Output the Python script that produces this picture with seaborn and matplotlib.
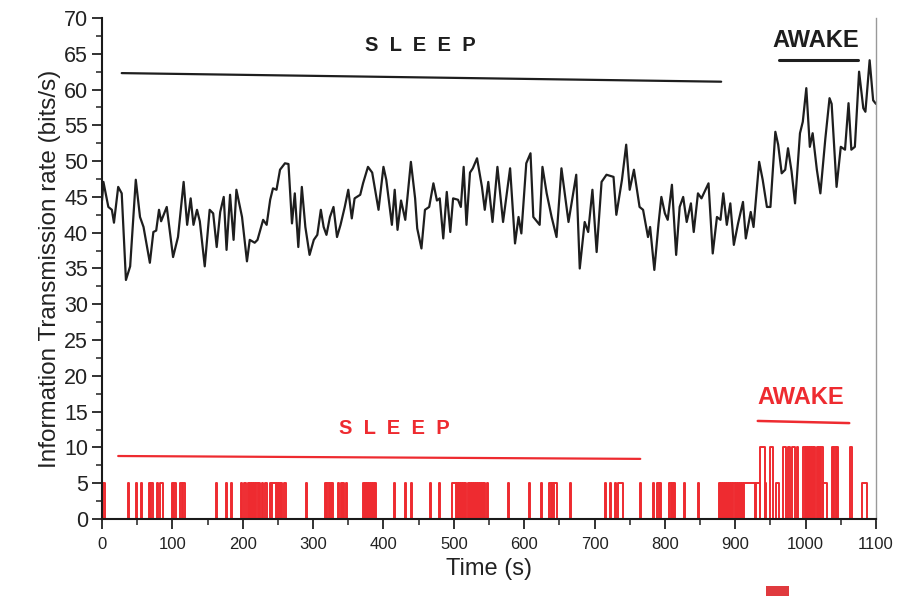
import numpy as np
import pandas as pd
import matplotlib
matplotlib.use("Agg")
import matplotlib.pyplot as plt
from matplotlib.patches import Rectangle
from matplotlib.ticker import MultipleLocator
import seaborn as sns

# black trace: information transmission rate
time_s = [0, 2, 9, 14, 17, 23, 28, 34, 40, 48,
          54, 59, 68, 73, 77, 81, 84, 92, 101, 108,
          116, 121, 126, 130, 135, 139, 146, 153, 158, 163,
          168, 173, 177, 182, 187, 191, 199, 206, 210, 217,
          221, 229, 234, 239, 243, 248, 253, 260, 265, 270,
          274, 279, 284, 289, 295, 301, 306, 311, 315, 319,
          324, 329, 334, 339, 345, 350, 355, 359, 367, 371,
          378, 384, 393, 400, 404, 412, 416, 420, 425, 431,
          439, 445, 448, 454, 459, 465, 471, 476, 480, 485,
          490, 495, 499, 506, 510, 514, 518, 523, 527, 533,
          540, 544, 549, 555, 562, 570, 580, 587, 592, 596,
          603, 609, 613, 622, 626, 632, 639, 646, 653, 663,
          674, 679, 686, 691, 697, 703, 710, 717, 727, 731,
          739, 745, 750, 756, 764, 769, 776, 779, 785, 791,
          795, 800, 804, 810, 816, 821, 826, 831, 837, 841,
          847, 852, 862, 868, 874, 879, 883, 888, 893, 898,
          904, 911, 915, 922, 926, 934, 939, 945, 950, 957,
          961, 966, 971, 975, 980, 985, 992, 996, 1001, 1006,
          1010, 1016, 1021, 1028, 1034, 1037, 1044, 1050, 1056, 1061,
          1065, 1070, 1076, 1082, 1085, 1091, 1096, 1100]
rate = [44.5, 47.1, 43.6, 43.2, 41.4, 46.4, 45.5, 33.4, 35.3, 47.4,
        42.2, 40.8, 35.8, 40.1, 40.3, 43.2, 41.6, 43.6, 36.6, 39.4,
        47.1, 41.1, 44.8, 41.1, 43.2, 41.6, 35.3, 43.2, 42.7, 38.0,
        42.9, 45.0, 37.6, 45.3, 39.0, 46.0, 42.2, 36.0, 39.0, 38.6,
        39.0, 41.8, 41.1, 44.6, 46.2, 46.0, 48.8, 49.7, 49.6, 41.3,
        45.5, 38.0, 46.4, 40.8, 36.9, 39.0, 39.7, 43.2, 40.8, 39.7,
        42.2, 43.6, 39.4, 41.1, 43.6, 46.0, 42.0, 44.8, 45.3, 46.9,
        49.2, 48.4, 43.2, 49.2, 47.4, 41.1, 46.0, 40.4, 44.5, 41.8,
        49.9, 44.8, 40.6, 37.8, 43.2, 43.6, 46.9, 44.5, 44.8, 39.2,
        45.7, 40.1, 44.8, 44.6, 43.6, 49.2, 41.1, 48.4, 49.0, 50.4,
        46.4, 43.2, 47.1, 41.5, 49.2, 41.5, 49.0, 38.5, 42.2, 39.9,
        49.7, 51.1, 42.2, 41.1, 49.2, 45.5, 42.2, 39.4, 49.0, 41.5,
        48.1, 35.0, 41.5, 40.1, 46.0, 37.3, 47.1, 48.1, 47.8, 42.5,
        47.4, 52.3, 46.0, 48.8, 43.6, 43.2, 39.4, 40.8, 34.8, 41.3,
        45.0, 42.7, 41.8, 46.7, 36.9, 43.6, 45.0, 41.5, 44.1, 40.1,
        45.5, 44.8, 46.9, 37.1, 42.2, 41.8, 45.5, 41.1, 44.1, 38.3,
        41.3, 44.3, 39.2, 42.9, 40.8, 49.9, 47.4, 43.6, 43.6, 54.1,
        52.3, 48.3, 48.8, 51.8, 48.6, 44.1, 53.9, 55.5, 60.2, 52.0,
        53.9, 48.8, 45.5, 53.1, 58.8, 58.0, 46.4, 52.0, 51.6, 58.1,
        51.6, 52.0, 62.5, 57.4, 56.9, 64.1, 58.5, 58.0]

# red trace: pulses (start s, end s, level)
red_pulses = [
    (1.5, 4, 5), (36.5, 38, 5), (48.5, 50, 5), (56, 57.5, 5), (66.5, 68, 5), (70, 72, 5),
    (78, 79.5, 5), (83, 86, 5), (99.5, 101, 5), (103, 105, 5), (111, 113, 5), (115, 118, 5),
    (162.5, 164, 5), (176.5, 178, 5), (183.5, 185, 5), (197.5, 199, 5), (202, 204, 5),
    (207.5, 209, 5), (210.5, 212, 5), (213.5, 215, 5), (216, 218, 5), (219.5, 221, 5),
    (223, 225, 5), (227, 229, 5), (231, 234, 5),
    (238.5, 240, 5), (242, 247, 5), (249, 250.5, 5), (252, 253.5, 5), (255, 256.5, 5), (258, 262, 5),
    (290.5, 292, 5), (316.5, 318, 5), (320, 322, 5), (324, 325.5, 5), (327, 329, 5),
    (336, 337.5, 5), (339, 341, 5), (343, 344.5, 5), (346.5, 348, 5),
    (370.5, 372, 5), (373.5, 375, 5), (376.5, 378, 5), (379.5, 381, 5), (382.5, 384, 5),
    (385.5, 387, 5), (388, 390, 5),
    (415.5, 417, 5), (430.5, 432, 5), (439.5, 441, 5), (465.5, 467, 5), (479.5, 481, 5),
    (498, 503, 5), (504.5, 506, 5), (507.5, 509, 5), (510.5, 512, 5), (513.5, 515, 5),
    (516.5, 518, 5), (519.5, 521, 5), (522.5, 524, 5), (525.5, 527, 5), (528.5, 530, 5),
    (531.5, 533, 5), (534.5, 536, 5), (537.5, 539, 5), (540.5, 542, 5), (543.5, 545, 5), (546.5, 549, 5),
    (577, 578.5, 5), (607, 608.5, 5), (624, 626, 5), (636, 637.5, 5), (639.5, 641, 5), (643, 646, 5),
    (664.5, 666, 5), (714.5, 716, 5), (721.5, 723, 5), (729.5, 731, 5), (733, 740.5, 5),
    (764.5, 766, 5), (783, 784.5, 5), (789.5, 791, 5), (793.5, 795, 5),
    (806.5, 808, 5), (810, 811.5, 5), (813, 815, 5), (826.5, 828, 5), (847, 848.5, 5),
    (876.5, 878, 5), (879.5, 881, 5), (882.5, 884, 5), (885.5, 887, 5), (888.5, 890, 5),
    (891, 893, 5), (894.5, 896, 5), (897.5, 899, 5), (900.5, 902, 5), (903.5, 905, 5),
    (906.5, 908, 5), (909, 910.5, 5), (912, 928, 5), (929, 935, 5),
    (935, 942, 10), (942, 944, 5), (949, 953, 10), (958.5, 962, 5),
    (968, 972, 10), (975, 977.5, 10), (980.5, 985, 10), (987.5, 989, 10),
    (997, 999, 10), (1000.5, 1002, 10), (1003.5, 1005, 10), (1006.5, 1008, 10),
    (1009.5, 1011, 10), (1012.5, 1014, 10), (1015.5, 1017, 10), (1018.5, 1020, 10),
    (1021.5, 1025, 10), (1025, 1030, 5), (1037, 1039, 10), (1041, 1043, 10),
    (1044.5, 1046, 10), (1063, 1066, 10), (1080, 1087, 5),
]

# annotation bars
black_sleep_bar = ([28, 880], [62.3, 61.1])
black_awake_bar = ([962, 1074], [64.1, 64.1])
red_sleep_bar = ([23, 765], [8.8, 8.4])
red_awake_bar = ([932, 1062], [13.7, 13.4])

RED = "#ee2b30"
BLACK = "#1e1e1e"

# build the step series of the red trace
red_t, red_v = [0], [0]
for on, off, lvl in red_pulses:
    red_t += [on, on, off, off]
    red_v += [0, lvl, lvl, 0]
red_t.append(1100)
red_v.append(0)

df_black = pd.DataFrame({"t": time_s, "v": rate})
df_red = pd.DataFrame({"t": red_t, "v": red_v})

sns.set_style("ticks")
plt.rcParams["font.family"] = ["Liberation Sans", "DejaVu Sans"]

fig = plt.figure(figsize=(9.1, 5.96), dpi=100)
ax = fig.add_axes([0.1121, 0.1292, 0.8505, 0.8406])

sns.lineplot(data=df_red, x="t", y="v", sort=False, estimator=None, color=RED, lw=1.4, ax=ax)
sns.lineplot(data=df_black, x="t", y="v", sort=False, estimator=None, color=BLACK, lw=1.6, ax=ax)

ax.plot(*black_sleep_bar, color=BLACK, lw=1.6)
ax.plot(*black_awake_bar, color=BLACK, lw=2.2)
ax.plot(*red_sleep_bar, color=RED, lw=1.6)
ax.plot(*red_awake_bar, color=RED, lw=1.8)

ax.text(452, 66.2, "S  L  E  E  P", color=BLACK, fontsize=14.5, fontweight="bold", ha="center", va="center")
ax.text(1015, 66.9, "AWAKE", color=BLACK, fontsize=17, fontweight="bold", ha="center", va="center")
ax.text(415, 12.7, "S  L  E  E  P", color=RED, fontsize=14.5, fontweight="bold", ha="center", va="center")
ax.text(993, 17.0, "AWAKE", color=RED, fontsize=17, fontweight="bold", ha="center", va="center")

ax.set_xlim(0, 1100)
ax.set_ylim(0, 70)
ax.xaxis.set_major_locator(MultipleLocator(100))
ax.xaxis.set_minor_locator(MultipleLocator(50))
ax.yaxis.set_major_locator(MultipleLocator(5))
ax.yaxis.set_minor_locator(MultipleLocator(2.5))
ax.tick_params(which="major", direction="out", length=7, width=1.3, colors="#222222")
ax.tick_params(which="minor", direction="out", length=4, width=1.1, colors="#222222")
ax.tick_params(axis="y", which="major", labelsize=15.5, pad=3)
ax.tick_params(axis="x", which="major", labelsize=12, pad=6)

ax.set_xlabel("Time (s)", fontsize=17, color="#222222", labelpad=4)
ax.set_ylabel("Information Transmission rate (bits/s)", fontsize=17.5, color="#222222", labelpad=2)

for side in ["left", "bottom"]:
    ax.spines[side].set_color("#1a1a1a")
    ax.spines[side].set_linewidth(1.5)
ax.spines["top"].set_visible(False)
ax.spines["right"].set_color("#999999")
ax.spines["right"].set_linewidth(1.0)

# small red mark under the axis (present in the source image)
fig.add_artist(Rectangle((766 / 910, 0), 23 / 910, 10 / 596, transform=fig.transFigure,
                         color="#e03a3e", lw=0))

fig.savefig("out.png", dpi=100)
